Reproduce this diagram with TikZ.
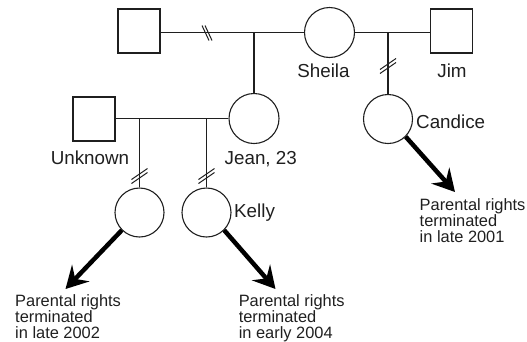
\documentclass[tikz,border=0pt]{standalone}
\usepackage{fontspec}
\setmainfont{Liberation Sans}
\usetikzlibrary{arrows.meta}
\definecolor{ink}{rgb}{0.12,0.12,0.12}
\tikzset{
  male/.style={draw=ink, line width=1.1pt, rectangle, minimum width=42pt, minimum height=44pt, inner sep=0pt},
  female/.style={draw=ink, line width=1.1pt, circle, minimum size=50pt, inner sep=0pt},
  kid/.style={draw=ink, line width=1.1pt, circle, minimum size=49pt, inner sep=0pt},
  rel/.style={draw=ink, line width=1.1pt},
  slash/.style={draw=ink, line width=1pt},
  namelbl/.style={font=\fontsize{18.8}{20}\selectfont, text=ink, inner sep=0pt},
  note/.style={font=\fontsize{16.4}{16.2}\selectfont, text=ink, inner sep=0pt, align=left, anchor=north west},
  bigarrow/.style={draw=black, line width=4.5pt, -{Stealth[length=22pt,width=24pt,inset=8pt]}}
}
\begin{document}
\begin{tikzpicture}[x=1pt,y=-1pt]
\useasboundingbox (0,0) rectangle (527,341);
% generation 1
\node[male] (gf) at (139,31) {};
\node[female] (sheila) at (329.5,32.5) {};
\node[male] (jim) at (451.5,31) {};
\coordinate (j1) at (254,33);
\coordinate (j2) at (388,33);
\draw[rel] (gf.east |- sheila.west) -- (sheila.west);
\draw[rel] (sheila.east) -- (jim.west |- sheila.east);
% generation 2
\node[male] (unk) at (94,119) {};
\node[female] (jean) at (254,118.5) {};
\node[kid] (candice) at (388,119) {};
\coordinate (j3) at (139.5,118);
\coordinate (j4) at (206.5,118);
\draw[rel] (j1) -- (jean.north);
\draw[rel] (j2) -- (candice.north);
\draw[rel] (unk.east |- jean.west) -- (jean.west);
% generation 3
\node[kid] (c1) at (139.5,212.5) {};
\node[kid] (kelly) at (206.5,212.5) {};
\draw[rel] (j3) -- (c1.north);
\draw[rel] (j4) -- (kelly.north);
% separation marks
\coordinate (s1) at (207,33);
\coordinate (s2) at (388,66);
\coordinate (s3) at (139.5,176);
\coordinate (s4) at (206.5,176);
\draw[slash] ([shift={(-5,-7.5)}]s1) -- ++(7,15);
\draw[slash] ([shift={(-2,-7.5)}]s1) -- ++(7,15);
\foreach \s in {s2,s3,s4}{
  \draw[slash] ([shift={(-8,3.5)}]\s) -- ++(16,-11);
  \draw[slash] ([shift={(-8,7.5)}]\s) -- ++(16,-11);
}
% labels
\node[namelbl, anchor=base] (lsheila) at (323.5,77.2) {Sheila};
\node[namelbl, anchor=base] (ljim) at (452,77.2) {Jim};
\node[namelbl, anchor=base west] (lcandice) at (416,128) {Candice};
\node[namelbl, anchor=base] (lunk) at (90,164.5) {Unknown};
\node[namelbl, anchor=base west] (ljean) at (224.5,164.5) {Jean, 23};
\node[namelbl, anchor=base west] (lkelly) at (234,217) {Kelly};
% outcomes
\coordinate (t1) at (65.5,289);
\coordinate (t2) at (275.5,289);
\coordinate (t3) at (455,192);
\draw[bigarrow] (c1.-135) -- (t1);
\draw[bigarrow] (kelly.-45) -- (t2);
\draw[bigarrow] (candice.-45) -- (t3);
\node[note] (n1) at (15,294.3) {Parental rights\\terminated\\in late 2002};
\node[note] (n2) at (238.6,294.3) {Parental rights\\terminated\\in early 2004};
\node[note] (n3) at (419.5,198.3) {Parental rights\\terminated\\in late 2001};
\end{tikzpicture}
\end{document}
